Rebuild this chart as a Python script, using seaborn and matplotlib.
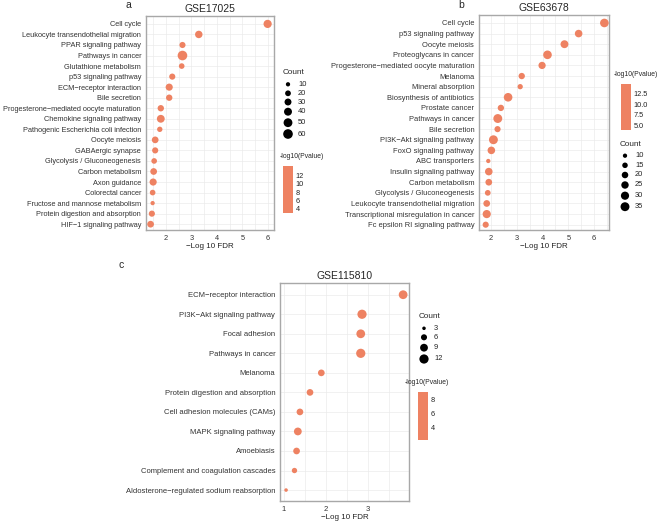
import matplotlib
matplotlib.use("Agg")
import pandas as pd
import matplotlib.pyplot as plt
import matplotlib.cm as cm
from matplotlib.colors import ListedColormap, Normalize
from matplotlib.ticker import MultipleLocator
import seaborn as sns

# ---- data ----
terms_a = ["Cell cycle", "Leukocyte transendothelial migration", "PPAR signaling pathway",
           "Pathways in cancer", "Glutathione metabolism", "p53 signaling pathway",
           "ECM\u2212receptor interaction", "Bile secretion",
           "Progesterone\u2212mediated oocyte maturation", "Chemokine signaling pathway",
           "Pathogenic Escherichia coli infection", "Oocyte meiosis", "GABAergic synapse",
           "Glycolysis / Gluconeogenesis", "Carbon metabolism", "Axon guidance",
           "Colorectal cancer", "Fructose and mannose metabolism",
           "Protein digestion and absorption", "HIF\u22121 signaling pathway"]
fdr_a = [5.99, 3.29, 2.65, 2.65, 2.62, 2.25, 2.13, 2.13, 1.80, 1.80,
         1.76, 1.58, 1.58, 1.54, 1.52, 1.50, 1.48, 1.48, 1.45, 1.40]
count_a = [43, 35, 23, 64, 19, 23, 32, 25, 25, 39, 17, 28, 23, 19, 28, 32, 19, 6, 23, 28]

terms_b = ["Cell cycle", "p53 signaling pathway", "Oocyte meiosis", "Proteoglycans in cancer",
           "Progesterone\u2212mediated oocyte maturation", "Melanoma", "Mineral absorption",
           "Biosynthesis of antibiotics", "Prostate cancer", "Pathways in cancer",
           "Bile secretion", "PI3K\u2212Akt signaling pathway", "FoxO signaling pathway",
           "ABC transporters", "Insulin signaling pathway", "Carbon metabolism",
           "Glycolysis / Gluconeogenesis", "Leukocyte transendothelial migration",
           "Transcriptional misregulation in cancer", "Fc epsilon RI signaling pathway"]
fdr_b = [6.40, 5.40, 4.85, 4.19, 3.98, 3.19, 3.13, 2.66, 2.38, 2.26,
         2.25, 2.09, 2.01, 1.89, 1.91, 1.91, 1.87, 1.83, 1.83, 1.79]
count_b = [33, 26, 28, 33, 24, 19, 14, 33, 19, 41, 18, 38, 26, 10, 26, 21, 16, 21, 30, 18]

terms_c = ["ECM\u2212receptor interaction", "PI3K\u2212Akt signaling pathway", "Focal adhesion",
           "Pathways in cancer", "Melanoma", "Protein digestion and absorption",
           "Cell adhesion molecules (CAMs)", "MAPK signaling pathway", "Amoebiasis",
           "Complement and coagulation cascades",
           "Aldosterone\u2212regulated sodium reabsorption"]
fdr_c = [3.84, 2.86, 2.83, 2.83, 1.89, 1.62, 1.38, 1.33, 1.30, 1.25, 1.05]
count_c = [11, 13, 11, 14, 7, 7, 7, 9, 7, 5, 3]

# legend values
count_ticks_a = [10, 20, 30, 40, 50, 60]
count_ticks_b = [10, 15, 20, 25, 30, 35]
count_ticks_c = [3, 6, 9, 12]
pval_range_a = [2.9, 14.35]
pval_ticks_a = [4, 6, 8, 10, 12]
pval_range_b = [3.8, 14.9]
pval_ticks_b = [5.0, 7.5, 10.0, 12.5]
pval_range_c = [2.2, 9.1]
pval_ticks_c = [4, 6, 8]

DOT = "#EE8262"
W, H = 657, 521

sns.set_style("white")
plt.rcParams['font.family'] = ['Liberation Sans', 'DejaVu Sans']

fig = plt.figure(figsize=(W / 100, H / 100), dpi=100)


def box(l, t, r, b):
    return [l / W, 1 - b / H, (r - l) / W, (b - t) / H]


def area(c, cnorm, sizes):
    lo, hi = cnorm
    return sizes[0] + (c - lo) / (hi - lo) * (sizes[1] - sizes[0])


def dot_panel(rect, terms, fdr, count, xlim, ylim, xticks, cnorm, sizes, title, fs):
    ax = fig.add_axes(box(*rect))
    df = pd.DataFrame({"term": terms, "fdr": fdr, "count": count})
    sns.scatterplot(data=df, x="fdr", y="term", size="count", sizes=sizes,
                    size_norm=cnorm, color=DOT, edgecolor="none", linewidth=0,
                    alpha=1, legend=False, ax=ax, zorder=3)
    n = len(terms)
    ax.set_xlim(*xlim)
    ax.set_ylim(n - 1 + ylim[1], -ylim[0])
    ax.set_xticks(xticks)
    ax.xaxis.set_minor_locator(MultipleLocator(0.5))
    ax.grid(True, which="both", color="#EBEBEB", lw=0.5, zorder=0)
    ax.set_axisbelow(True)
    for sp in ax.spines.values():
        sp.set_color("#A8A8A8")
        sp.set_linewidth(1.0)
    ax.tick_params(axis="both", which="major", length=2, width=0.5, color="#555555",
                   labelsize=fs, labelcolor="#333333", pad=1.5)
    ax.tick_params(axis="x", which="minor", length=0)
    ax.set_xlabel("\u2212Log 10 FDR", fontsize=5.8, labelpad=1, color="#222222")
    ax.set_ylabel("")
    ax.set_title(title, fontsize=7.5, pad=3)
    return ax


def colorbar(rect, prange, ticks, labels):
    cax = fig.add_axes(box(*rect))
    sm = cm.ScalarMappable(norm=Normalize(*prange), cmap=ListedColormap([DOT]))
    cb = fig.colorbar(sm, cax=cax, ticks=ticks)
    cb.set_ticklabels(labels)
    cb.outline.set_visible(False)
    cax.tick_params(length=0, labelsize=5.3, pad=2, labelcolor="#222222")


# ---- panels ----
norm_a, sizes_a = (10, 60), (9.5, 48)
norm_b, sizes_b = (10, 35), (9.5, 41)
norm_c, sizes_c = (3, 12), (6.5, 44)

dot_panel((146, 16, 274, 230), terms_a, fdr_a, count_a, (1.22, 6.24), (0.75, 0.55),
          [2, 3, 4, 5, 6], norm_a, sizes_a, "GSE17025", 5.3)
dot_panel((479, 15, 609, 230), terms_b, fdr_b, count_b, (1.53, 6.58), (0.75, 0.5),
          [2, 3, 4, 5, 6], norm_b, sizes_b, "GSE63678", 5.4)
dot_panel((280, 283, 409, 501), terms_c, fdr_c, count_c, (0.905, 3.98), (0.6, 0.56),
          [1, 2, 3], norm_c, sizes_c, "GSE115810", 5.5)

colorbar((283, 166, 293, 213), pval_range_a, pval_ticks_a, [str(t) for t in pval_ticks_a])
colorbar((621, 84, 631, 130), pval_range_b, pval_ticks_b, ["%.1f" % t for t in pval_ticks_b])
colorbar((418, 392, 428, 440), pval_range_c, pval_ticks_c, [str(t) for t in pval_ticks_c])

# ---- overlay for legends and panel letters (pixel coordinates) ----
ov = fig.add_axes([0, 0, 1, 1], facecolor="none")
ov.set_xlim(0, W)
ov.set_ylim(H, 0)
ov.axis("off")


def count_legend(x, y_title, ys, ticks, cnorm, sizes):
    ov.text(x - 5, y_title, "Count", fontsize=5.9, va="center", ha="left")
    ov.scatter([x] * len(ticks), ys, s=[area(t, cnorm, sizes) for t in ticks],
               color="black", edgecolor="none")
    for yy, t in zip(ys, ticks):
        ov.text(x + 10, yy, str(t), fontsize=5.4, va="center", ha="left", color="#222222")


count_legend(288, 73, [84.3, 93.3, 102, 111.7, 122.7, 134], count_ticks_a, norm_a, sizes_a)
count_legend(625, 144, [155.7, 165.3, 175, 185, 195.7, 206.7], count_ticks_b, norm_b, sizes_b)
count_legend(424, 316, [328.3, 337.3, 347.7, 359], count_ticks_c, norm_c, sizes_c)

ov.text(280, 156, "-log10(Pvalue)", fontsize=4.9, va="center", ha="left")
ov.text(614, 74, "-log10(Pvalue)", fontsize=4.9, va="center", ha="left")
ov.text(405, 382, "-log10(Pvalue)", fontsize=4.9, va="center", ha="left")

ov.text(128, 5, "a", fontsize=7.5, va="center", ha="center")
ov.text(461, 5, "b", fontsize=7.5, va="center", ha="center")
ov.text(121, 265, "c", fontsize=7.5, va="center", ha="center")

fig.savefig("out.png", dpi=100)
